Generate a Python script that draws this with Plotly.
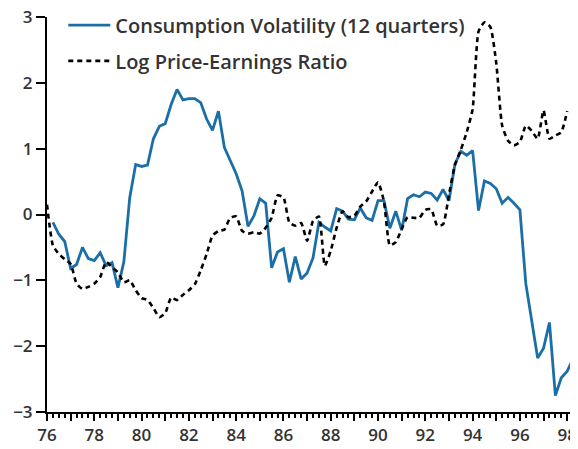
import plotly.graph_objects as go

# quarterly dates, decimal years (76 = 1976)
vol_start = 76.25
consumption_volatility = [
    -0.12, -0.30, -0.41, -0.82, -0.76, -0.50, -0.67, -0.70, -0.58, -0.78,
    -0.73, -1.11, -0.72, 0.26, 0.76, 0.73, 0.75, 1.15, 1.34, 1.38,
    1.67, 1.90, 1.74, 1.76, 1.76, 1.70, 1.45, 1.28, 1.57, 1.02,
    0.82, 0.62, 0.36, -0.18, -0.02, 0.24, 0.17, -0.81, -0.57, -0.52,
    -1.03, -0.64, -0.98, -0.89, -0.66, -0.12, -0.19, -0.25, 0.09, 0.05,
    -0.07, -0.08, 0.10, -0.05, -0.09, 0.21, 0.21, -0.21, 0.05, -0.24,
    0.24, 0.30, 0.27, 0.34, 0.32, 0.22, 0.38, 0.21, 0.76, 0.96,
    0.90, 0.97, 0.06, 0.51, 0.47, 0.39, 0.17, 0.26, 0.17, 0.07,
    -1.05, -1.65, -2.18, -2.03, -1.64, -2.75, -2.48, -2.38, -2.19,
]

pe_start = 76.0
log_pe_ratio = [
    0.15, -0.47, -0.60, -0.68, -0.75, -1.05, -1.13, -1.10, -1.05, -0.95,
    -0.72, -0.80, -0.88, -1.03, -1.00, -1.15, -1.27, -1.30, -1.42, -1.56,
    -1.50, -1.26, -1.30, -1.22, -1.15, -1.06, -0.85, -0.60, -0.32, -0.25,
    -0.23, -0.05, -0.03, -0.25, -0.29, -0.27, -0.29, -0.20, -0.05, 0.29,
    0.26, -0.12, -0.17, -0.13, -0.40, -0.10, -0.03, -0.78, -0.55, -0.20,
    0.05, -0.04, -0.02, 0.12, 0.20, 0.35, 0.49, 0.20, -0.47, -0.42,
    -0.22, -0.04, -0.05, -0.05, 0.07, 0.08, -0.17, -0.15, 0.30, 0.75,
    0.98, 1.25, 1.60, 2.78, 2.92, 2.85, 2.30, 1.35, 1.12, 1.05,
    1.10, 1.35, 1.27, 1.15, 1.58, 1.15, 1.20, 1.25, 1.57,
]

year_ticks = list(range(76, 99))
year_labels = [str(y) if y % 2 == 0 else "" for y in year_ticks]

vol_x = [vol_start + 0.25 * i for i in range(len(consumption_volatility))]
pe_x = [pe_start + 0.25 * i for i in range(len(log_pe_ratio))]

text_col = "#333333"
font_family = "'Open Sans', Lato, sans-serif"

fig = go.Figure()
fig.add_trace(go.Scatter(
    x=vol_x, y=consumption_volatility, mode="lines",
    name="Consumption Volatility (12 quarters)",
    line=dict(color="#1b6fa6", width=2.8),
    legend="legend",
))
fig.add_trace(go.Scatter(
    x=pe_x, y=log_pe_ratio, mode="lines",
    name="Log Price-Earnings Ratio",
    line=dict(color="black", width=2.6, dash="5px,4px", shape="spline", smoothing=0.5),
    legend="legend2",
))

# legends placed in container coordinates so they don't push the margins
legend_style = dict(
    bgcolor="rgba(0,0,0,0)", borderwidth=0, itemwidth=42,
    font=dict(family=font_family, size=20, color=text_col, weight=600),
    xref="container", yref="container",
    xanchor="left", yanchor="middle",
)

# the page body adds an 8px offset, so the figure is 8px smaller each way
fig.update_layout(
    width=570, height=441,
    margin=dict(l=39, r=3, t=9, b=37, autoexpand=False),
    paper_bgcolor="white", plot_bgcolor="white",
    font=dict(family=font_family, color=text_col),
    showlegend=True,
    legend=dict(x=0.097, y=0.961, **legend_style),
    legend2=dict(x=0.097, y=0.88, **legend_style),
    xaxis=dict(
        range=[76, 98.33],
        showgrid=False, zeroline=False,
        showline=True, linecolor="black", linewidth=2,
        tickmode="array", tickvals=year_ticks, ticktext=year_labels,
        ticks="outside", ticklen=7, tickwidth=2, tickcolor="black",
        tickfont=dict(size=17, color=text_col, weight=600),
        ticklabeloverflow="allow",
        minor=dict(dtick=0.25, tick0=76, ticks="outside", ticklen=4, tickwidth=1.5, tickcolor="black"),
    ),
    yaxis=dict(
        range=[-3, 3],
        showgrid=False, zeroline=False,
        showline=True, linecolor="black", linewidth=2,
        tickvals=[-3, -2, -1, 0, 1, 2, 3],
        ticks="outside", ticklen=9, tickwidth=2, tickcolor="black",
        tickfont=dict(size=17, color=text_col, weight=600),
        ticklabeloverflow="allow",
    ),
)

fig.write_html("out.html")
